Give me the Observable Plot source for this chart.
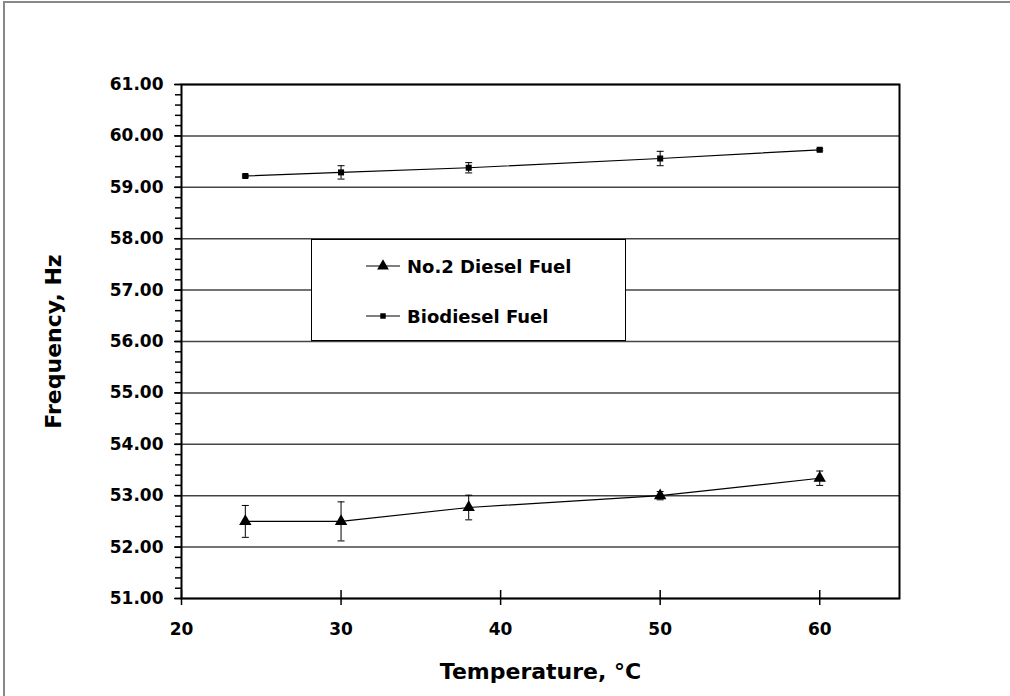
<!DOCTYPE html>
<html>
<head>
<meta charset="utf-8">
<script src="https://cdn.jsdelivr.net/npm/d3@7"></script>
<script src="https://cdn.jsdelivr.net/npm/@observablehq/plot@0.6"></script>
<style>
  html, body { margin: 0; padding: 0; background: #fff; overflow: hidden; }
  #wrap { position: relative; width: 1010px; height: 696px; overflow: hidden; font-family: "DejaVu Sans", sans-serif; }
  #outer { position: absolute; left: 3px; top: 1px; width: 1200px; height: 900px; border-left: 2px solid #888; border-top: 2px solid #888; pointer-events: none; }
  #chart { position: absolute; left: 0; top: 0; }
  #legend { position: absolute; left: 311px; top: 239px; width: 315px; height: 102px; box-sizing: border-box; border: 1.5px solid #000; background: #fff; }
  .row { position: absolute; left: 54px; height: 24px; display: flex; align-items: center; font-weight: bold; font-size: 18px; color: #000; }
  .row svg { margin-right: 7px; }
  #chart g[aria-label="x-axis label"] text, #chart g[aria-label="y-axis label"] text { font-size: 22px; }
</style>
</head>
<body>
<div id="wrap">
  <div id="chart"></div>
  <div id="outer"></div>
  <div id="legend"></div>
</div>
<script>
// ---- data ----
const temperatures = [24, 30, 38, 50, 60];
const dieselFreq   = [52.50, 52.50, 52.77, 53.00, 53.34];
const dieselErr    = [0.31, 0.38, 0.24, 0.08, 0.14];
const bioFreq      = [59.22, 59.29, 59.38, 59.56, 59.73];
const bioErr       = [0.02, 0.13, 0.10, 0.14, 0.02];
const seriesNames  = ["No.2 Diesel Fuel", "Biodiesel Fuel"];
const xTicks       = [20, 30, 40, 50, 60];
const yMajorTicks  = [51, 52, 53, 54, 55, 56, 57, 58, 59, 60, 61];
const yMinorTicks  = d3.range(51, 61.0001, 0.2).map(v => +v.toFixed(1));
const xTitle = "Temperature, °C";
const yTitle = "Frequency, Hz";

const diesel = temperatures.map((t, i) => ({x: t, y: dieselFreq[i], e: dieselErr[i]}));
const bio = temperatures.map((t, i) => ({x: t, y: bioFreq[i], e: bioErr[i]}));

const cap = {draw(ctx, size) { const w = Math.sqrt(size / Math.PI); ctx.moveTo(-w, 0); ctx.lineTo(w, 0); }};

function seriesMarks(data, symbol, r) {
  return [
    Plot.line(data, {x: "x", y: "y", stroke: "black", strokeWidth: 1.2}),
    Plot.ruleX(data, {x: "x", y1: d => d.y - d.e, y2: d => d.y + d.e, stroke: "black", strokeWidth: 1}),
    Plot.dot(data, {x: "x", y: d => d.y - d.e, symbol: cap, r: 3.5, stroke: "black", strokeWidth: 1}),
    Plot.dot(data, {x: "x", y: d => d.y + d.e, symbol: cap, r: 3.5, stroke: "black", strokeWidth: 1}),
    Plot.dot(data, {x: "x", y: "y", symbol, r, fill: "black", stroke: "none"})
  ];
}

const chart = Plot.plot({
  width: 1010,
  height: 696,
  marginLeft: 181,
  marginRight: 111,
  marginTop: 84,
  marginBottom: 98,
  style: {fontFamily: "DejaVu Sans", fontSize: "17px", fontWeight: "bold", color: "black", background: "transparent"},
  x: {domain: [20, 65]},
  y: {domain: [51, 61]},
  marks: [
    Plot.ruleY(yMajorTicks, {stroke: "#444", strokeWidth: 1.5}),
    Plot.axisY(yMinorTicks, {tickSize: 6, tickFormat: () => "", label: null, strokeWidth: 1.5}),
    Plot.axisY(yMajorTicks, {tickSize: 7, tickPadding: 11, tickFormat: d => d.toFixed(2), strokeWidth: 1.5,
      label: yTitle, labelAnchor: "center", labelOffset: 136, labelArrow: "none"}),
    Plot.axisX(xTicks, {tickSize: 15, dy: -8, tickPadding: 17, tickFormat: d => String(d), strokeWidth: 1.5,
      label: xTitle, labelAnchor: "center", labelOffset: 80, labelArrow: "none"}),
    ...seriesMarks(diesel, "triangle", 4.6),
    ...seriesMarks(bio, "square", 3.4),
    Plot.frame({stroke: "black", strokeWidth: 2})
  ]
});
document.getElementById("chart").append(chart);

// legend
const legend = document.getElementById("legend");
const legendSymbols = ["triangle", "square"];
const legendSizes = [60, 30];
seriesNames.forEach((name, i) => {
  const row = document.createElement("div");
  row.className = "row";
  row.style.top = (14 + i * 50) + "px";
  const svg = d3.create("svg").attr("width", 34).attr("height", 14);
  svg.append("line").attr("x1", 0).attr("x2", 34).attr("y1", 7).attr("y2", 7).attr("stroke", "black").attr("stroke-width", 1.2);
  svg.append("path").attr("transform", "translate(17,7)")
    .attr("d", d3.symbol(legendSymbols[i] === "triangle" ? d3.symbolTriangle : d3.symbolSquare, legendSizes[i])())
    .attr("fill", "black");
  row.append(svg.node());
  const span = document.createElement("span");
  span.textContent = name;
  row.append(span);
  legend.append(row);
});
</script>
</body>
</html>
